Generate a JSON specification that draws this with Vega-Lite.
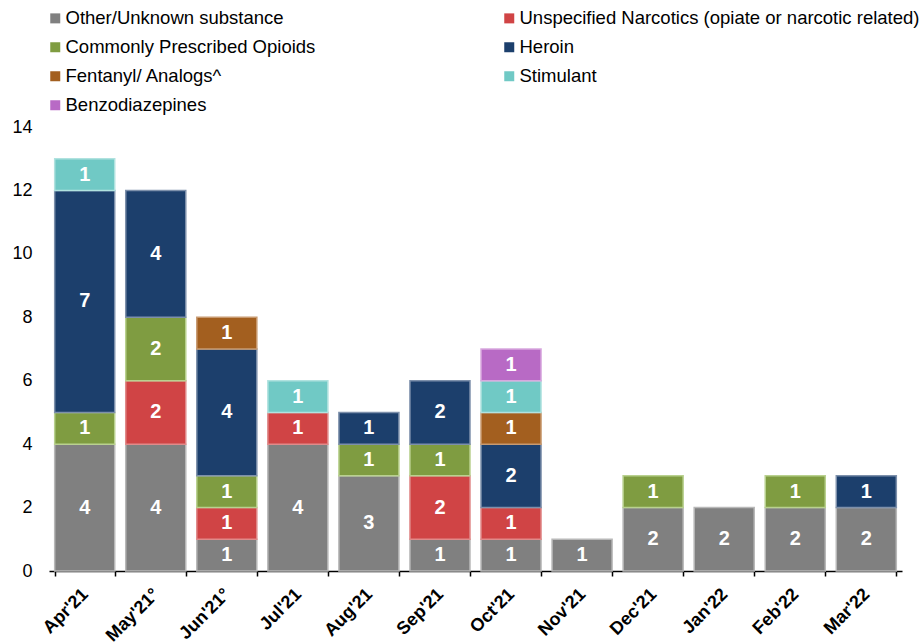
{
  "$schema": "https://vega.github.io/schema/vega-lite/v6.json",
  "width": 853,
  "height": 444,
  "autosize": {"type": "none"},
  "padding": {"left": 49, "top": 127, "right": 21, "bottom": 71},
  "background": "white",
  "config": {
    "font": "Liberation Sans",
    "view": {"stroke": null}
  },
  "data": {
    "values": [
      {"m": "Apr'21", "c": "Other/Unknown substance", "k": 0, "v": 4},
      {"m": "Apr'21", "c": "Commonly Prescribed Opioids", "k": 2, "v": 1},
      {"m": "Apr'21", "c": "Heroin", "k": 3, "v": 7},
      {"m": "Apr'21", "c": "Stimulant", "k": 5, "v": 1},
      {"m": "May'21°", "c": "Other/Unknown substance", "k": 0, "v": 4},
      {"m": "May'21°", "c": "Unspecified Narcotics (opiate or narcotic related)", "k": 1, "v": 2},
      {"m": "May'21°", "c": "Commonly Prescribed Opioids", "k": 2, "v": 2},
      {"m": "May'21°", "c": "Heroin", "k": 3, "v": 4},
      {"m": "Jun'21°", "c": "Other/Unknown substance", "k": 0, "v": 1},
      {"m": "Jun'21°", "c": "Unspecified Narcotics (opiate or narcotic related)", "k": 1, "v": 1},
      {"m": "Jun'21°", "c": "Commonly Prescribed Opioids", "k": 2, "v": 1},
      {"m": "Jun'21°", "c": "Heroin", "k": 3, "v": 4},
      {"m": "Jun'21°", "c": "Fentanyl/ Analogs^", "k": 4, "v": 1},
      {"m": "Jul'21", "c": "Other/Unknown substance", "k": 0, "v": 4},
      {"m": "Jul'21", "c": "Unspecified Narcotics (opiate or narcotic related)", "k": 1, "v": 1},
      {"m": "Jul'21", "c": "Stimulant", "k": 5, "v": 1},
      {"m": "Aug'21", "c": "Other/Unknown substance", "k": 0, "v": 3},
      {"m": "Aug'21", "c": "Commonly Prescribed Opioids", "k": 2, "v": 1},
      {"m": "Aug'21", "c": "Heroin", "k": 3, "v": 1},
      {"m": "Sep'21", "c": "Other/Unknown substance", "k": 0, "v": 1},
      {"m": "Sep'21", "c": "Unspecified Narcotics (opiate or narcotic related)", "k": 1, "v": 2},
      {"m": "Sep'21", "c": "Commonly Prescribed Opioids", "k": 2, "v": 1},
      {"m": "Sep'21", "c": "Heroin", "k": 3, "v": 2},
      {"m": "Oct'21", "c": "Other/Unknown substance", "k": 0, "v": 1},
      {"m": "Oct'21", "c": "Unspecified Narcotics (opiate or narcotic related)", "k": 1, "v": 1},
      {"m": "Oct'21", "c": "Heroin", "k": 3, "v": 2},
      {"m": "Oct'21", "c": "Fentanyl/ Analogs^", "k": 4, "v": 1},
      {"m": "Oct'21", "c": "Stimulant", "k": 5, "v": 1},
      {"m": "Oct'21", "c": "Benzodiazepines", "k": 6, "v": 1},
      {"m": "Nov'21", "c": "Other/Unknown substance", "k": 0, "v": 1},
      {"m": "Dec'21", "c": "Other/Unknown substance", "k": 0, "v": 2},
      {"m": "Dec'21", "c": "Commonly Prescribed Opioids", "k": 2, "v": 1},
      {"m": "Jan'22", "c": "Other/Unknown substance", "k": 0, "v": 2},
      {"m": "Feb'22", "c": "Other/Unknown substance", "k": 0, "v": 2},
      {"m": "Feb'22", "c": "Commonly Prescribed Opioids", "k": 2, "v": 1},
      {"m": "Mar'22", "c": "Other/Unknown substance", "k": 0, "v": 2},
      {"m": "Mar'22", "c": "Heroin", "k": 3, "v": 1}
    ]
  },
  "transform": [
    {"stack": "v", "groupby": ["m"], "sort": [{"field": "k", "order": "ascending"}], "as": ["y0", "y1"]},
    {"calculate": "(datum.y0 + datum.y1) / 2", "as": "ym"}
  ],
  "encoding": {
    "x": {
      "field": "m",
      "type": "nominal",
      "sort": ["Apr'21", "May'21°", "Jun'21°", "Jul'21", "Aug'21", "Sep'21", "Oct'21", "Nov'21", "Dec'21", "Jan'22", "Feb'22", "Mar'22"],
      "scale": {"paddingInner": 0.155, "paddingOuter": 0.08},
      "axis": {
        "title": null,
        "labelAngle": -45,
        "labelAlign": "right",
        "labelBaseline": "top",
        "labelFontWeight": "bold",
        "labelFontSize": 18,
        "labelColor": "black",
        "labelPadding": 9,
        "labelOffset": -6,
        "domainColor": "black",
        "domainWidth": 1.5,
        "tickColor": "black",
        "tickWidth": 1.5,
        "tickSize": 5,
        "tickBand": "extent"
      }
    }
  },
  "layer": [
    {
      "mark": {"type": "bar", "strokeWidth": 1.5},
      "encoding": {
        "y": {
          "field": "y0",
          "type": "quantitative",
          "scale": {"domain": [0, 14]},
          "axis": {
            "title": null,
            "values": [0, 2, 4, 6, 8, 10, 12, 14],
            "grid": false,
            "domain": false,
            "ticks": false,
            "labelFontSize": 18,
            "labelColor": "black",
            "labelPadding": 17
          }
        },
        "y2": {"field": "y1"},
        "color": {
          "field": "c",
          "type": "nominal",
          "scale": {
            "domain": ["Other/Unknown substance", "Unspecified Narcotics (opiate or narcotic related)", "Commonly Prescribed Opioids", "Heroin", "Fentanyl/ Analogs^", "Stimulant", "Benzodiazepines"],
            "range": ["#808080", "#D04445", "#7F9C41", "#1C3F6C", "#A35F1F", "#70C9C5", "#B86AC5"]
          },
          "legend": {
            "title": null,
            "orient": "none",
            "legendX": -3,
            "legendY": -118,
            "direction": "horizontal",
            "columns": 2,
            "columnPadding": 184,
            "rowPadding": 10,
            "symbolType": "square",
            "symbolSize": 100,
            "symbolStrokeWidth": 0,
            "labelFontSize": 18.5,
            "labelColor": "black",
            "labelLimit": 500,
            "labelOffset": 1
          }
        },
        "stroke": {
          "field": "c",
          "type": "nominal",
          "scale": {
            "domain": ["Other/Unknown substance", "Unspecified Narcotics (opiate or narcotic related)", "Commonly Prescribed Opioids", "Heroin", "Fentanyl/ Analogs^", "Stimulant", "Benzodiazepines"],
            "range": ["#b8b8b8", "#e08a8a", "#b9d18f", "#7d90ab", "#c89a70", "#b0e2df", "#d8a8de"]
          },
          "legend": null
        }
      }
    },
    {
      "mark": {"type": "text", "color": "white", "fontWeight": "bold", "fontSize": 20, "baseline": "middle"},
      "encoding": {
        "y": {"field": "ym", "type": "quantitative"},
        "text": {"field": "v", "type": "quantitative"}
      }
    }
  ]
}
